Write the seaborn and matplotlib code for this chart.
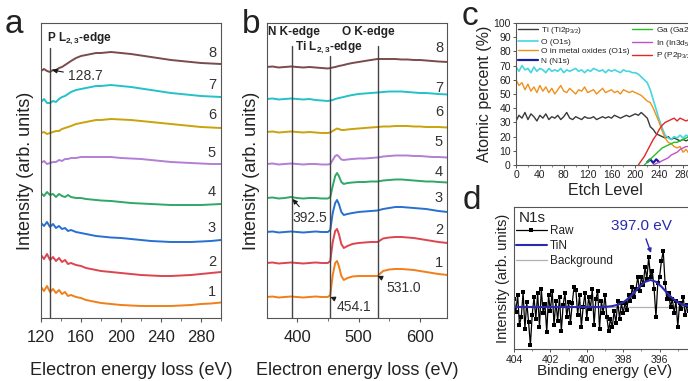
import numpy as np
import matplotlib
matplotlib.use("Agg")
import matplotlib.pyplot as plt
import seaborn as sns
from matplotlib.ticker import MultipleLocator

# ---------------- panel a : P L2,3 edge spectra (offset, arb. units) ----------------
eloss_a = [120, 123, 126, 129, 132, 135, 138, 141, 144, 147, 150, 155, 160, 165, 170,
           175, 180, 190, 200, 210, 220, 230, 240, 250, 260, 270, 280, 290, 300]
a1 = [31, 27, 32, 26, 29, 25, 28, 24, 26, 22, 23, 21, 20, 18, 17, 16, 15, 14, 13, 12.5,
      12, 12, 12, 12, 12.5, 13, 14, 14.5, 15.5]
a2 = [63, 59, 64, 58, 61, 57, 60, 56, 58, 54, 55, 53, 52, 50, 49, 48, 47, 46, 45, 44,
      43, 42.5, 42, 42, 42.5, 43, 44, 45, 46]
a3 = [95, 92, 96, 91, 94, 90, 92, 89, 90, 87, 88, 86, 85, 84, 83, 82, 81.5, 80.5, 80, 79,
      78, 77, 76.5, 76, 76, 76, 76.5, 77, 78]
a4 = [125, 122, 126, 123, 124, 121, 124, 122, 121, 123, 121, 120, 120, 119, 118.5, 118,
      117.5, 117, 116, 115, 114.5, 114, 113.5, 113, 113, 113, 113, 113.5, 114]
a5 = [155, 157, 154, 155, 156, 156, 158, 157, 159, 159, 160, 160, 161, 161, 161, 161, 161,
      161, 160, 159.5, 159, 158, 157, 156, 155.5, 155, 154.5, 154, 154]
a6 = [185, 186, 184, 185, 186, 187, 187, 189, 190, 191, 192, 194, 195, 196, 197, 198, 198,
      199, 198.5, 198, 197, 196, 195, 194, 193, 192, 191, 190.5, 190]
a7 = [216, 219, 215, 215, 217, 216, 219, 221, 222, 224, 226, 228, 229, 230, 231, 232, 232,
      233, 232, 231, 229.5, 228, 226.5, 225, 224, 223, 222, 221.5, 221]
a8 = [247, 249, 247, 246, 248, 247, 250, 251, 253, 255, 257, 260, 262, 263, 264, 265, 265,
      266, 265, 264, 262.5, 261, 259.5, 258, 257, 256, 255, 254.5, 254]
label_h_a = [26, 56, 90, 126, 165, 203, 233, 265]
edge_a = 128.7

# ---------------- panel b : N K / Ti L2,3 / O K edge spectra ----------------
eloss_b = [350, 360, 370, 380, 390, 400, 410, 420, 430, 440, 450, 454, 458, 462, 465, 468,
           472, 476, 482, 490, 500, 510, 520, 531, 540, 550, 560, 570, 580, 590, 600, 610,
           620, 630, 645]
b1 = [21, 21.5, 20.5, 21, 21.5, 21, 20.5, 21, 21.5, 21, 21, 23, 43, 55, 57, 52, 42, 38, 40,
      41.5, 42, 42, 42, 42, 47, 48.5, 49, 49, 48.5, 48, 47, 46, 45, 44, 43]
b2 = [55, 55.5, 54.5, 55, 55.5, 55, 54.5, 55, 55.5, 55, 55, 57, 76, 87, 89, 84, 74, 70, 72,
      74, 75, 75.5, 76, 76, 79.5, 80.5, 81, 81, 80.5, 80, 79, 78, 77, 76, 75]
b3 = [86, 86.5, 85.5, 86, 86.5, 86, 85.5, 86, 86.5, 86, 86, 88, 105, 115, 118, 114, 106, 103,
      104, 105, 106, 106.5, 107, 107.5, 109, 110, 111, 111, 110.5, 110, 109.5, 109, 108, 107, 106]
b4 = [120, 120.5, 119.5, 120, 121, 120, 119.5, 120, 120, 119.5, 119.5, 121, 132, 142, 145, 142,
      136, 134, 135, 135.5, 136, 136, 136.5, 136.5, 137.5, 138, 138.5, 138.5, 138, 137.5, 137,
      136.5, 136.5, 136, 135.5]
b5 = [154, 154.5, 153.5, 154, 154.5, 154, 153.5, 154, 154, 153.5, 153.5, 154, 158, 162, 163,
      161.5, 158.5, 158, 158.5, 159, 159.5, 159.5, 160, 160.5, 161.5, 162, 162.5, 162.5, 162.5,
      162, 162, 161.5, 161, 161, 160.5]
b6 = [186, 186.5, 185.5, 186, 186.5, 186, 185.5, 186, 185.5, 185, 185, 185.5, 187, 188.5, 189.5,
      189, 188, 188, 188.5, 189, 189.5, 190, 190.5, 191, 191.5, 191.5, 192, 192, 192, 191.5,
      191.5, 191, 191, 191, 190.5]
b7 = [219, 219.5, 218.5, 219, 219.5, 219, 218.5, 219, 218, 217.5, 217, 217.5, 218, 219, 219.5,
      220, 220.5, 221, 222, 223, 224, 224.5, 225, 225.5, 226, 226.5, 226.5, 226.5, 226, 225.5,
      225, 225, 224.5, 224, 223.5]
b8 = [251, 251.5, 250.5, 251, 251.5, 251, 250.5, 251, 250.5, 250, 249.5, 250, 250.5, 251, 251.5,
      252, 252.5, 253, 254, 255, 256, 257, 258, 259, 259, 259, 259, 258.5, 258.5, 258, 258,
      257.5, 257, 256.5, 256]
label_h_b = [55, 88, 120, 146, 176, 206, 230, 270]
edges_b = [392.5, 454.1, 531.0]

spec_colors = ['#f07f1a', '#dd4450', '#2570d2', '#2fa866', '#b27fd6', '#c9a30a', '#22c2c8', '#7b4b4b']
spec_labels = ['1', '2', '3', '4', '5', '6', '7', '8']

# ---------------- panel c : XPS depth profile ----------------
etch_levels = np.arange(0, 295, 5)
nan = np.nan
ti_pct = [31, 35, 33, 37, 32, 36, 34, 31, 35,
          33, 36, 32, 34, 33, 35, 32, 34, 37, 33, 32, 34, 33, 32, 34, 33, 33, 34, 32, 33,
          34, 33, 34, 33, 35, 34, 33, 34, 35, 34, 35,
          36, 35, 37, 35, 33, 27, 25, 22, 21, 20, 19, 20, 18, 19, 18, 17, 18, 17, 18]
o_pct = [69, 66, 70, 67, 68, 65, 69, 66, 68,
         67, 65, 68, 66, 67, 66, 68, 65, 67, 66, 67, 68, 66, 67, 65, 67, 66, 68, 67, 66,
         67, 65, 67, 66, 67, 66, 65, 67, 66, 66, 65,
         65, 64, 62, 60, 58, 53, 46, 39, 32, 26, 21, 19, 18, 20, 19, 21, 19, 21, 20]
ox_pct = [60, 56, 58, 53, 57, 52, 55, 51, 56,
          52, 55, 51, 54, 50, 53, 56, 52, 51, 54, 52, 50, 53, 52, 55, 51, 52, 53, 50, 52,
          54, 51, 52, 53, 51, 52, 50, 53, 52, 51, 52,
          51, 50, 49, 47, 45, 44, 40, 35, 30, 24, 19, 16, 15, 13, 12, 13, 9, 11, 8]
n_pct = [nan] * 40 + [nan, nan, nan, nan, 2, 4, 1.5, 4, 2, nan, nan, nan, nan, nan, nan, nan,
                      nan, nan, nan]
ga_pct = [nan] * 40 + [nan, nan, nan, 0, 2, 4, 6, 8, 10, 12, 13, 14, 15, 16, 16, 17, 18, 19, 20]
in_pct = [nan] * 40 + [nan, nan, nan, nan, nan, nan, 0, 1, 2, 3, 4, 5, 7, 8, 9, 11, 12, 13, 13]
p_pct = [nan] * 40 + [nan, 0, 3, 6, 10, 14, 18, 21, 25, 28, 30, 31, 32, 33, 31, 33, 32, 31, 32]

# ---------------- panel d : N1s XPS ----------------
n1s_raw = [8, -5, 12, -18, -10, 15, -22, 5, -15, -38,
           -8, 10, -12, 14, -20, 18, -6, 3, -25, 12,
           -4, 16, -18, 6, -14, 10, -24, 2, 14, -10,
           5, -16, 4, 20, 17, -8, 12, -20, 0, 14,
           -12, 10, -2, 18, -18, 8, 16, -22, 6, -6,
           12, -10, -24, -12,
           -20, -4, -16, 6, -12, 4, -6,
           4, -3, 12, 6, 20, 10, 18, 30, 16, 30,
           22, 40, 28, 50, 30, 36, 18, -10, 24, 30,
           46, 56, 24, 8, 14, 0, 8, -6, 6, -20,
           4, -2, 10, -8, 2, -4]
binding_e = np.round(np.arange(404.0, 394.35, -0.1), 1)
tin_e = [404.0, 399.2, 398.9, 398.6, 398.3, 398.0, 397.7, 397.4, 397.1, 396.8, 396.5, 396.2,
         395.9, 395.6, 395.3, 395.0, 394.7, 394.4]
tin_i = [0, 0, 0.3, 0.9, 2.2, 4.6, 8.8, 14.3, 20.4, 25.2, 27, 25.2, 20.4, 14.3, 8.8, 4.6,
         2.2, 0.9]
bg_e = [404.0, 394.0]
bg_i = [0, 0]

# ---------------- style ----------------
sns.set_theme(style="ticks")
plt.rcParams.update({
    'font.family': ['Liberation Sans', 'DejaVu Sans'],
    'mathtext.default': 'regular',
    'axes.edgecolor': '#555555',
    'axes.linewidth': 0.8,
    'xtick.color': '#555555',
    'ytick.color': '#555555',
    'xtick.labelcolor': '#222222',
    'ytick.labelcolor': '#222222',
    'axes.labelcolor': '#222222',
    'text.color': '#222222',
})

W, H = 688, 381
fig = plt.figure(figsize=(W / 100, H / 100), dpi=100)
fig.patch.set_facecolor('white')


def add_ax(l, t, r, b):
    return fig.add_axes([l / W, 1 - b / H, (r - l) / W, (b - t) / H])


def style_spec(ax):
    ax.set_yticks([])
    ax.tick_params(axis='x', which='major', direction='out', length=3, width=0.8, pad=6,
                   labelsize=12)
    ax.tick_params(axis='x', which='minor', direction='out', length=2, width=0.6)
    ax.set_ylim(0, 295)
    ax.set_ylabel("Intensity (arb. units)", fontsize=13)
    ax.set_xlabel("Electron energy loss (eV)", fontsize=13)
    ax.yaxis.set_label_coords(-0.04, 0.5)
    ax.xaxis.set_label_coords(0.5, -0.148)


arrow = dict(arrowstyle='-|>', color='k', lw=0.8, mutation_scale=7, shrinkA=1, shrinkB=0)

# ---- panel a ----
axa = add_ax(41, 23, 221, 318)
for vals, col in zip([a1, a2, a3, a4, a5, a6, a7, a8], spec_colors):
    sns.lineplot(x=eloss_a, y=vals, color=col, lw=1.4, ax=axa, sort=False)
axa.set_xlim(120, 300)
axa.set_xticks([120, 160, 200, 240, 280])
axa.xaxis.set_minor_locator(MultipleLocator(20))
style_spec(axa)
axa.axvline(edge_a, ymax=270 / 295, color='#444444', lw=1.0)
for lab, h in zip(spec_labels, label_h_a):
    axa.text(291, h, lab, fontsize=10.5, ha='center', va='center', color='#333333')
axa.text(126, 279, "P L$_{2,3}$-edge", fontsize=8.5, fontweight='bold', ha='left', va='center')
axa.annotate("128.7", xy=(131, 248), xytext=(147, 242), fontsize=10, ha='left', va='center',
             color='#333333', arrowprops=arrow)

# ---- panel b ----
axb = add_ax(267, 23, 447, 318)
for vals, col in zip([b1, b2, b3, b4, b5, b6, b7, b8], spec_colors):
    sns.lineplot(x=eloss_b, y=vals, color=col, lw=1.4, ax=axb, sort=False)
axb.set_xlim(351, 644)
axb.set_xticks([400, 500, 600])
axb.xaxis.set_minor_locator(MultipleLocator(50))
style_spec(axb)
for e, top in zip(edges_b, [272, 262, 272]):
    axb.axvline(e, ymax=top / 295, color='#444444', lw=1.0)
for lab, h in zip(spec_labels, label_h_b):
    axb.text(631, h, lab, fontsize=10.5, ha='center', va='center', color='#333333')
axb.text(352, 285.5, "N K-edge", fontsize=8.5, fontweight='bold', ha='left', va='center')
axb.text(397, 270, "Ti L$_{2,3}$-edge", fontsize=8.5, fontweight='bold', ha='left', va='center')
axb.text(473.6, 285.5, "O K-edge", fontsize=8.5, fontweight='bold', ha='left', va='center')
axb.annotate("392.5", xy=(392.5, 119), xytext=(420, 100), fontsize=10, ha='center',
             va='center', color='#333333', arrowprops=arrow)
axb.annotate("454.1", xy=(454.1, 21), xytext=(493, 11), fontsize=10, ha='center',
             va='center', color='#333333', arrowprops=arrow)
axb.annotate("531.0", xy=(531.0, 42), xytext=(574, 30), fontsize=10, ha='center',
             va='center', color='#333333', arrowprops=arrow)

# ---- panel c ----
axc = add_ax(516, 23, 695, 165)
c_series = [
    ("Ti (Ti2p$_{3/2}$)", ti_pct, '#3a3a3a', 1.0),
    ("O (O1s)", o_pct, '#45d6e0', 1.2),
    ("O in metal oxides (O1s)", ox_pct, '#f0901c', 1.0),
    ("N (N1s)", n_pct, '#1c1ca0', 1.6),
    ("Ga (Ga2p$_{3/2}$)", ga_pct, '#22c022', 1.0),
    ("In (In3d$_{5/2}$)", in_pct, '#c050d0', 1.0),
    ("P (P2p$_{3/2}$)", p_pct, '#e02828', 1.0),
]
for name, vals, col, lw in c_series:
    sns.lineplot(x=etch_levels, y=vals, color=col, lw=lw, label=name, ax=axc, sort=False)
axc.set_xlim(0, 300)
axc.set_ylim(0, 100)
axc.set_xticks(np.arange(0, 300, 40))
axc.set_yticks(np.arange(0, 101, 10))
axc.xaxis.set_minor_locator(MultipleLocator(20))
axc.tick_params(axis='both', which='major', direction='out', length=2.5, width=0.7, pad=1.2,
                labelsize=7.5)
axc.tick_params(axis='x', which='minor', direction='out', length=1.5, width=0.5)
axc.set_xlabel("Etch Level", fontsize=11.5)
axc.set_ylabel("Atomic percent (%)", fontsize=11.5)
axc.xaxis.set_label_coords(0.5, -0.125)
axc.yaxis.set_label_coords(-0.135, 0.5)
axc.legend(loc='upper left', bbox_to_anchor=(0.0, 1.0), ncol=2, frameon=False, fontsize=6,
           handlelength=2.4, handletextpad=0.4, columnspacing=0.3, labelspacing=0.2,
           borderpad=0.25, borderaxespad=0.0)

# ---- panel d ----
axd = add_ax(514, 207, 696, 349)
sns.lineplot(x=bg_e, y=bg_i, color='#b0b0b0', lw=0.9, ax=axd, sort=False, label='Background')
sns.lineplot(x=binding_e, y=n1s_raw, color='black', lw=0.9, marker='s', markersize=2.4,
             markeredgewidth=0, ax=axd, sort=False, label='Raw')
sns.lineplot(x=tin_e, y=tin_i, color='#2a2ab0', lw=1.5, ax=axd, sort=False, label='TiN')
axd.set_xlim(404, 394)
axd.set_ylim(-42, 100)
axd.set_xticks([404, 402, 400, 398, 396])
axd.xaxis.set_minor_locator(MultipleLocator(1))
axd.set_yticks([])
axd.tick_params(axis='x', which='major', direction='out', length=2.5, width=0.7, pad=1.5,
                labelsize=7.5)
axd.tick_params(axis='x', which='minor', direction='out', length=1.5, width=0.5)
axd.set_xlabel("Binding energy (eV)", fontsize=11)
axd.set_ylabel("Intensity (arb. units)", fontsize=10.5)
axd.xaxis.set_label_coords(0.5, -0.105)
axd.yaxis.set_label_coords(-0.02, 0.5)
handles, labels = axd.get_legend_handles_labels()
order = [labels.index(k) for k in ['Raw', 'TiN', 'Background']]
axd.legend([handles[i] for i in order], [labels[i] for i in order], loc='upper left',
           bbox_to_anchor=(0.01, 0.875), frameon=False, fontsize=8.5, handlelength=2.6,
           handletextpad=0.3, labelspacing=0.25, borderpad=0, borderaxespad=0, numpoints=1)
axd.text(0.025, 0.975, "N1s", transform=axd.transAxes, fontsize=11, ha='left', va='top')
axd.annotate("397.0 eV", xy=(396.47, 54), xytext=(397.0, 81), fontsize=11, ha='center',
             va='center', color='#2a2ab0',
             arrowprops=dict(arrowstyle='-|>', color='#2a2ab0', lw=1.0, mutation_scale=6,
                             shrinkA=2, shrinkB=0))

# ---- panel letters ----
fig.text(5 / W, 1 - 33 / H, "a", fontsize=24, va='baseline', ha='left')
fig.text(242 / W, 1 - 33 / H, "b", fontsize=24, va='baseline', ha='left')
fig.text(462 / W, 1 - 25 / H, "c", fontsize=24, va='baseline', ha='left')
fig.text(463 / W, 1 - 209 / H, "d", fontsize=24, va='baseline', ha='left')

fig.savefig("out.png", dpi=100)
